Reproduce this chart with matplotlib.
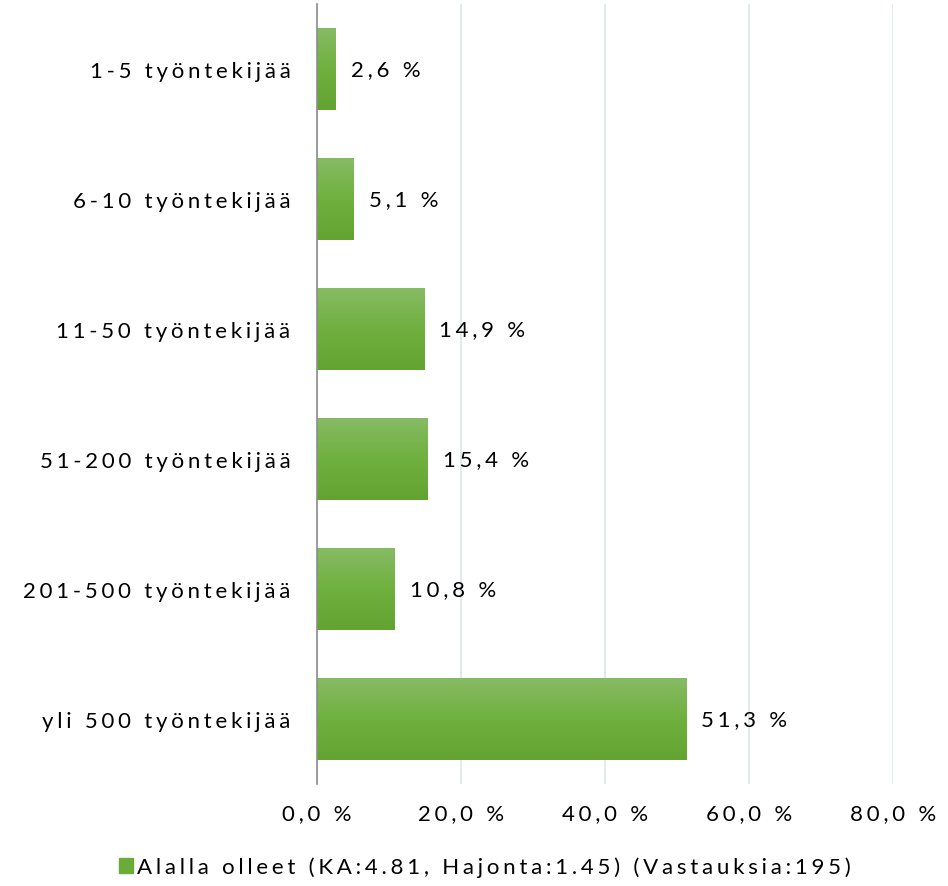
import numpy as np
import matplotlib.pyplot as plt
from matplotlib.colors import LinearSegmentedColormap
from matplotlib.patches import Patch

plt.rcParams['font.family'] = ['Lato', 'DejaVu Sans']

categories = ['1-5 työntekijää', '6-10 työntekijää', '11-50 työntekijää',
              '51-200 työntekijää', '201-500 työntekijää', 'yli 500 työntekijää']
values = [2.6, 5.1, 14.9, 15.4, 10.8, 51.3]
xticks = [0, 20, 40, 60, 80]
legend_label = 'Alalla olleet (KA:4.81, Hajonta:1.45) (Vastauksia:195)'


def spaced(s):
    # the original chart uses letter spacing; emulate with narrow spaces
    return '\u2006'.join(s)


def pct(v):
    return spaced(f'{v:.1f} %'.replace('.', ','))


fs = 16
fig = plt.figure(figsize=(9.48, 8.87), dpi=100)
ax = fig.add_axes([317/948, 1-785/887, (893-317)/948, 780/887])

cmap = LinearSegmentedColormap.from_list('g', ['#86bb64', '#70b03f', '#62a331'])
grad = np.linspace(0, 1, 100).reshape(-1, 1)
y = np.arange(len(categories))
h = 0.63
bars = ax.barh(y, values, height=h, color='#70b03f', zorder=2)
for b in bars:
    x0, y0 = b.get_x(), b.get_y()
    im = ax.imshow(grad, cmap=cmap, aspect='auto', zorder=3,
                   extent=[x0, x0 + b.get_width(), y0 + h, y0])
    im.set_clip_path(b)

for yi, v in zip(y, values):
    ax.text(v + 2.1, yi, pct(v), va='center', ha='left',
            fontsize=fs, color='black')

ax.set_xlim(0, 80)
ax.set_ylim(len(categories) - 0.5, -0.5)
ax.set_yticks(y)
ax.set_yticklabels([spaced(c) for c in categories], fontsize=fs)
ax.set_xticks(xticks)
ax.set_xticklabels([pct(t) for t in xticks], fontsize=fs)
ax.tick_params(axis='y', length=0, pad=19)
ax.tick_params(axis='x', length=0, pad=14)
ax.grid(axis='x', color='#dde6ef', linewidth=1.2, zorder=0)
for s in ['top', 'right', 'bottom']:
    ax.spines[s].set_visible(False)
ax.spines['left'].set_color('#8c8c8c')
ax.spines['left'].set_linewidth(1.2)
ax.spines['left'].set_zorder(4)

fig.legend(handles=[Patch(color='#6aab3a')], labels=[spaced(legend_label)],
           loc='center', bbox_to_anchor=(485/948, 1-868/887), frameon=False,
           fontsize=fs, handlelength=0.6, handleheight=0.6, handletextpad=0.2)

fig.savefig('out.png', dpi=100)
